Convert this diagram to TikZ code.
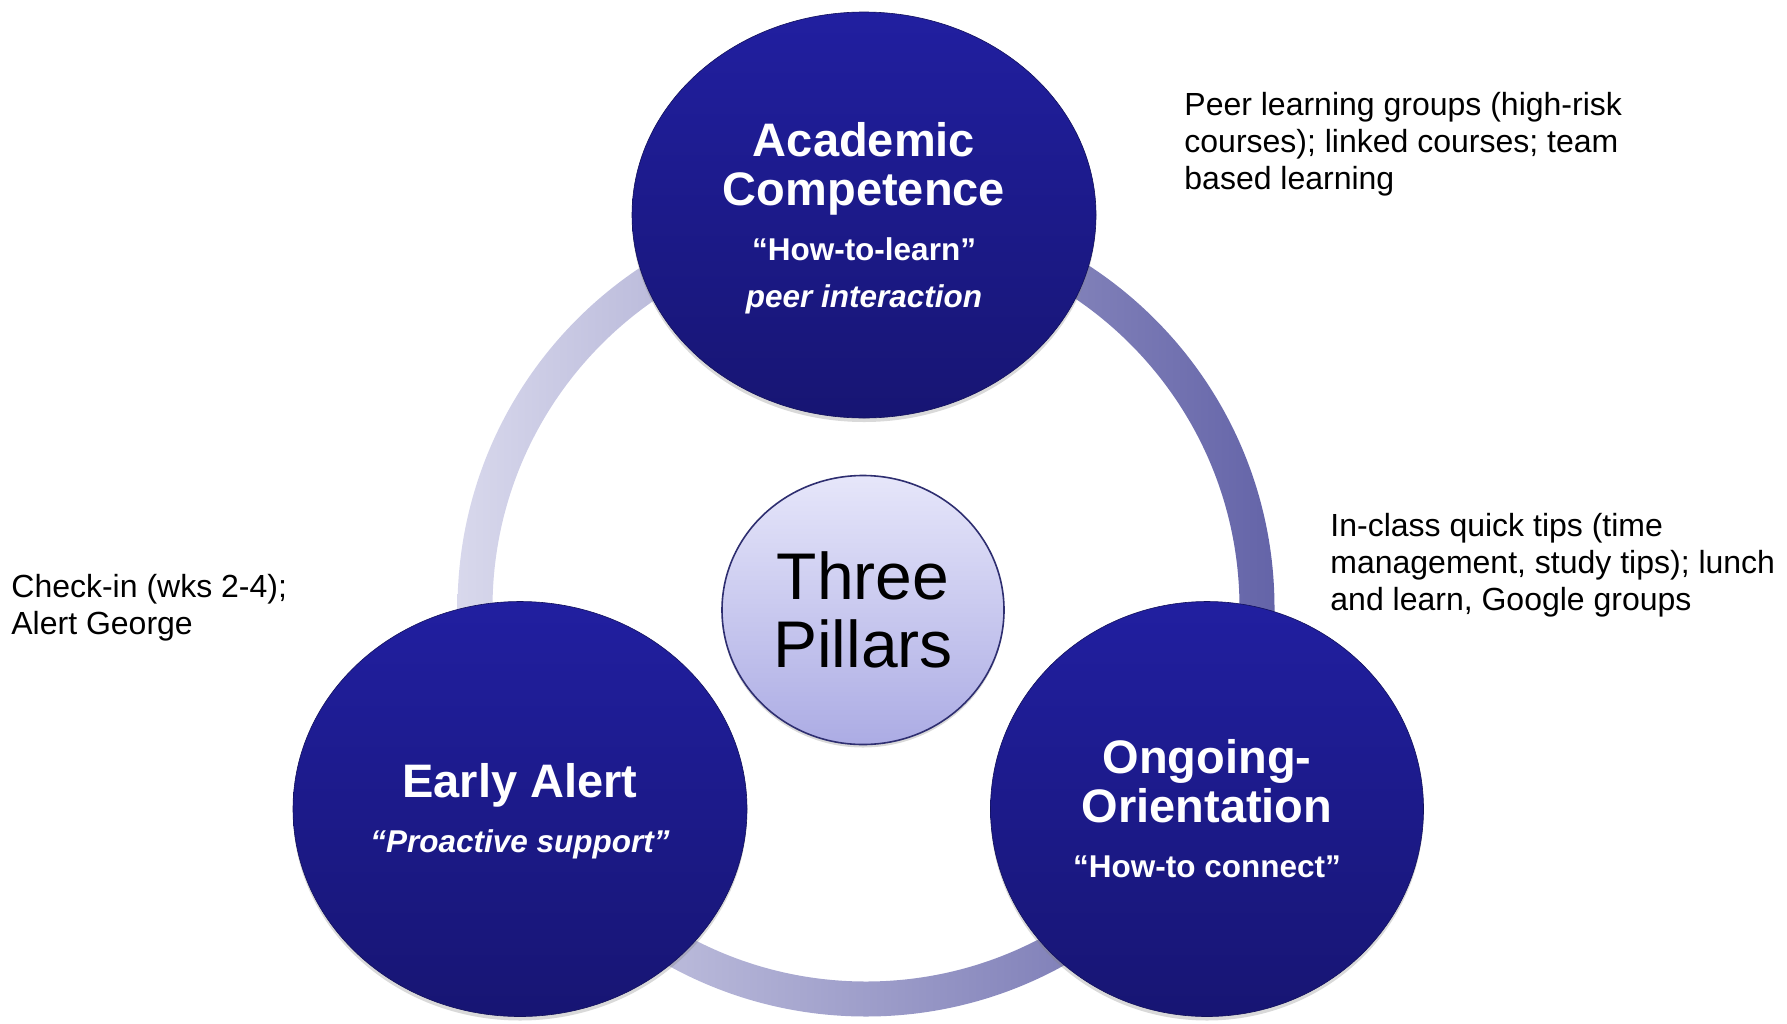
\documentclass[tikz,border=0pt]{standalone}
\usepackage{fontspec}
\setmainfont{Liberation Sans}
\usetikzlibrary{shapes.geometric,shadows}

\definecolor{pillartop}{RGB}{33,31,160}
\definecolor{pillarbot}{RGB}{23,21,115}
\definecolor{hubtop}{RGB}{230,230,250}
\definecolor{hubbot}{RGB}{172,172,228}
\definecolor{hubedge}{RGB}{46,46,112}
\definecolor{ringlight}{RGB}{216,216,236}
\definecolor{ringdark}{RGB}{100,100,168}

\begin{document}
\begin{tikzpicture}[x=0.5pt,y=-0.5pt,
pillar/.style={ellipse,inner sep=0pt,top color=pillartop,bottom color=pillarbot,
  draw=pillarbot!80!black,line width=0.3pt,
  drop shadow={shadow xshift=0pt,shadow yshift=-2pt,opacity=0.3}},
hub/.style={ellipse,inner sep=0pt,top color=hubtop,bottom color=hubbot,
  draw=hubedge,line width=0.8pt,align=center,
  minimum width=141pt,minimum height=134.5pt,
  font=\fontsize{33}{34}\selectfont,
  drop shadow={shadow xshift=0pt,shadow yshift=-1.5pt,opacity=0.3}},
pilltitle/.style={anchor=base,text=white,inner sep=0pt,
  font=\fontsize{23.5}{25}\selectfont\bfseries},
pillmotto/.style={anchor=base,text=white,inner sep=0pt,
  font=\fontsize{15.75}{18}\selectfont\bfseries},
remark/.style={anchor=north west,inner sep=0pt,align=left,
  font=\fontsize{16}{18.4}\selectfont}]
\useasboundingbox (0,0) rectangle (1787,1023);
% ring behind the pillars
\shade[even odd rule,left color=ringlight,right color=ringdark]
  (866,608) circle (408.5) (866,608) circle (373.5);
\node[hub] (hub) at (863,610) {Three\\Pillars};
\node[pillar,minimum width=232pt,minimum height=203pt] (acad) at (864,215) {};
\node[pillar,minimum width=227pt,minimum height=207.5pt] (early) at (520,809) {};
\node[pillar,minimum width=216.5pt,minimum height=207.5pt] (ongo) at (1207,809) {};

\node[pilltitle] (acad1) at (864,156) {Academic};
\node[pilltitle] (acad2) at (864,205) {Competence};
\node[pillmotto] (acad3) at (864,260) {“How-to-learn”};
\node[pillmotto] (acad4) at (864,307) {\itshape peer interaction};

\node[pilltitle] (early1) at (520,797) {Early Alert};
\node[pillmotto] (early2) at (520,852) {\itshape “Proactive support”};

\node[pilltitle] (ongo1) at (1207,773) {Ongoing-};
\node[pilltitle] (ongo2) at (1207,822) {Orientation};
\node[pillmotto] (ongo3) at (1207,877) {“How-to connect”};

\node[remark] (peer) at (1184,92) {Peer learning groups (high-risk\\courses); linked courses; team\\based learning};
\node[remark] (tips) at (1330,513) {In-class quick tips (time\\management, study tips); lunch\\and learn, Google groups};
\node[remark] (check) at (11,574) {Check-in (wks 2-4);\\Alert George};
\end{tikzpicture}
\end{document}
